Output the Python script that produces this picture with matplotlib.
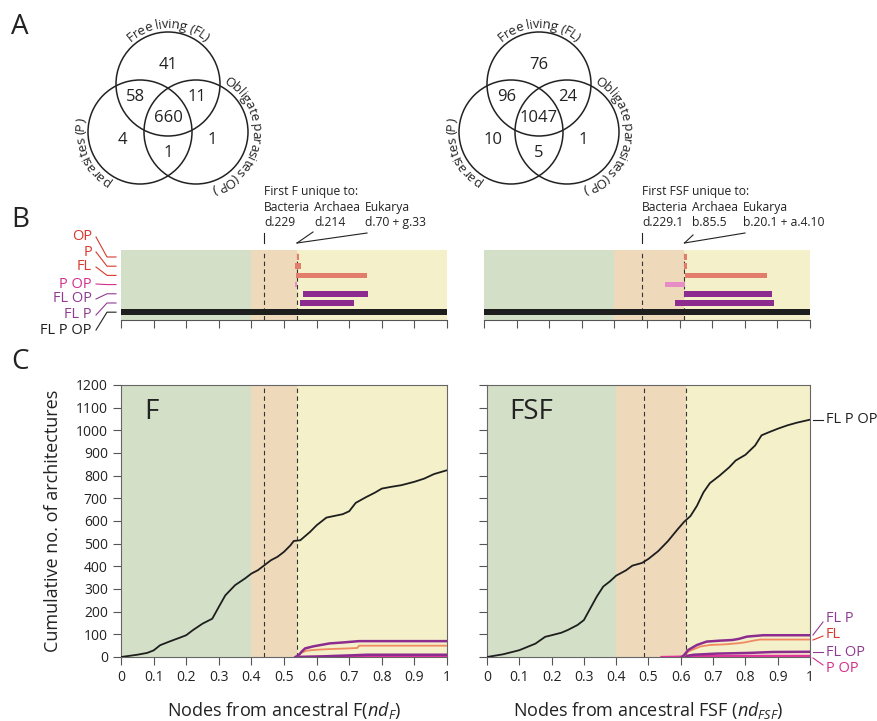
import numpy as np
import matplotlib
matplotlib.use('Agg')
import matplotlib.pyplot as plt
from matplotlib.patches import Circle
from matplotlib.font_manager import FontProperties, findfont, get_font

FONT = ['Open Sans', 'DejaVu Sans']
plt.rcParams['font.family'] = FONT
plt.rcParams['mathtext.fontset'] = 'custom'
plt.rcParams['mathtext.rm'] = 'Open Sans'
plt.rcParams['mathtext.it'] = 'Open Sans:italic'

# ---- data ----
venn_regions = ['FL', 'FL P', 'FL OP', 'FL P OP', 'P', 'P OP', 'OP']
venn_f = [41, 58, 11, 660, 4, 1, 1]
venn_fsf = [76, 96, 24, 1047, 10, 5, 1]

rows = ['OP', 'P', 'FL', 'P OP', 'FL OP', 'FL P', 'FL P OP']
bar_f_start = [0.541, 0.534, 0.537, 0.533, 0.558, 0.549, 0.0]
bar_f_end = [0.546, 0.552, 0.755, 0.540, 0.758, 0.715, 1.0]
bar_fsf_start = [0.613, 0.613, 0.617, 0.555, 0.613, 0.586, 0.0]
bar_fsf_end = [0.623, 0.623, 0.868, 0.617, 0.883, 0.890, 1.0]

green_end = 0.4
f_lines = [0.44, 0.54]        # bacteria / archaea+eukarya first unique F
fsf_lines = [0.485, 0.615]

f_x = [0, 0.05, 0.08, 0.10, 0.12, 0.15, 0.18, 0.20, 0.22, 0.25, 0.28, 0.30, 0.32, 0.35,
       0.38, 0.40, 0.42, 0.44, 0.46, 0.48, 0.50, 0.52, 0.53, 0.55, 0.58, 0.60, 0.63, 0.65,
       0.68, 0.70, 0.72, 0.75, 0.78, 0.80, 0.83, 0.86, 0.90, 0.93, 0.96, 1.0]
f_y = [0, 10, 18, 29, 52, 69, 85, 96, 118, 147, 169, 221, 272, 317, 346, 368, 383, 405,
       427, 442, 464, 493, 512, 515, 552, 581, 615, 621, 630, 643, 680, 704, 726, 743,
       751, 758, 773, 787, 807, 824]
f_flp_x = [0.535, 0.545, 0.555, 0.565, 0.59, 0.64, 0.68, 0.73, 1.0]
f_flp_y = [0, 8, 25, 38, 47, 60, 64, 70, 70]
f_fl_x = [0.54, 0.552, 0.57, 0.60, 0.64, 0.70, 0.725, 0.73, 1.0]
f_fl_y = [0, 18, 28, 32, 35, 38, 40, 50, 50]
f_flop_x = [0.545, 0.60, 0.64, 0.70, 0.755, 1.0]
f_flop_y = [0, 2, 4, 7, 10, 10]
f_pop_x = [0.54, 0.60, 1.0]
f_pop_y = [0, 1, 1]

fsf_x = [0, 0.05, 0.10, 0.15, 0.18, 0.20, 0.23, 0.25, 0.28, 0.30, 0.32, 0.34, 0.36, 0.38,
         0.40, 0.43, 0.45, 0.48, 0.50, 0.53, 0.56, 0.59, 0.61, 0.63, 0.65, 0.67, 0.69,
         0.72, 0.75, 0.77, 0.80, 0.83, 0.85, 0.87, 0.90, 0.93, 0.96, 1.0]
fsf_y = [0, 12, 30, 59, 89, 96, 107, 119, 141, 163, 215, 267, 311, 333, 359, 382, 403,
         415, 433, 467, 511, 563, 596, 622, 667, 726, 767, 800, 837, 867, 892, 933, 978,
         990, 1007, 1022, 1034, 1047]
fsf_flp_x = [0.603, 0.61, 0.623, 0.65, 0.68, 0.72, 0.76, 0.78, 0.805, 0.855, 1.0]
fsf_flp_y = [0, 8, 31, 53, 68, 72, 75, 80, 90, 96, 96]
fsf_fl_x = [0.607, 0.623, 0.66, 0.69, 0.74, 0.78, 0.80, 0.824, 0.845, 1.0]
fsf_fl_y = [0, 24, 46, 53, 56, 61, 65, 72, 77, 77]
fsf_flop_x = [0.607, 0.623, 0.64, 0.71, 0.81, 0.885, 1.0]
fsf_flop_y = [0, 6, 10, 15, 18, 22, 23]
fsf_pop_x = [0.54, 0.58, 0.61, 0.625, 0.65, 1.0]
fsf_pop_y = [0, 1, 2, 4, 5, 5]

# ---- styles ----
GREEN = '#d3e0c7'
PEACH = '#eed9bb'
YELLOW = '#f4f0ca'
SALMON = '#e27d6c'
PINK = '#e58dc4'
PURPLE = '#8c2c8f'
BLACK = '#1e1e1e'
RED_T = '#d83a2e'
MAG_T = '#d3308d'
PUR_T = '#8e3d90'
LINE_FL = '#ef8a62'
LINE_POP = '#e0339b'
INK = '#222222'
bar_colors = [SALMON, SALMON, SALMON, PINK, PURPLE, PURPLE, BLACK]
label_colors = [RED_T, RED_T, RED_T, MAG_T, PUR_T, PUR_T, INK]

W, H = 878, 721
DPI = 100
fig = plt.figure(figsize=(W / DPI, H / DPI), dpi=DPI)


def box(x0, y0, x1, y1):
    return [x0 / W, 1 - y1 / H, (x1 - x0) / W, (y1 - y0) / H]


def backdrop(ax, split):
    ax.axvspan(0, green_end, color=GREEN, lw=0, zorder=0)
    ax.axvspan(green_end, split, color=PEACH, lw=0, zorder=0)
    ax.axvspan(split, 1, color=YELLOW, lw=0, zorder=0)


# ---- panel B ----
def panel_b(rect, starts, ends, vlines):
    ax = fig.add_axes(rect)
    backdrop(ax, vlines[1])
    for v in vlines:
        ax.axvline(v, color='#333333', lw=0.8, ls=(0, (4, 3)), zorder=1)
    for i in range(len(rows)):
        h = 0.7 if i == len(rows) - 1 else 0.6
        ax.barh(i, ends[i] - starts[i], left=starts[i], height=h,
                color=bar_colors[i], lw=0, zorder=2)
    ax.set_xlim(0, 1)
    ax.set_ylim(6.85, -0.76)
    ax.set_xticks(np.arange(0, 1.01, 0.1))
    ax.set_yticks([])
    ax.tick_params(axis='x', direction='out', length=5.5, width=0.8, color='#555555',
                   labelbottom=False)
    for s in ['top', 'left', 'right']:
        ax.spines[s].set_visible(False)
    ax.spines['bottom'].set_color('#555555')
    ax.spines['bottom'].set_linewidth(0.8)
    return ax


axb1 = panel_b(box(121, 250, 447, 320), bar_f_start, bar_f_end, f_lines)
axb2 = panel_b(box(484, 250, 810, 320), bar_fsf_start, bar_fsf_end, fsf_lines)


# ---- panel C ----
def panel_c(rect, xs, ys, flp, fl, flop, pop, vlines, name, xlabel, show_y):
    ax = fig.add_axes(rect)
    backdrop(ax, vlines[1])
    for v in vlines:
        ax.axvline(v, color='#333333', lw=0.8, ls=(0, (4, 3)), zorder=1)
    ax.plot(pop[0], pop[1], color=LINE_POP, lw=1.6, zorder=3)
    ax.plot(flop[0], flop[1], color=PURPLE, lw=1.8, zorder=3)
    ax.plot(fl[0], fl[1], color=LINE_FL, lw=1.3, zorder=3)
    ax.plot(flp[0], flp[1], color=PURPLE, lw=1.8, zorder=3)
    ax.plot(xs, ys, color=BLACK, lw=1.3, zorder=4)
    ax.set_xlim(0, 1)
    ax.set_ylim(0, 1200)
    xt = np.round(np.arange(0, 1.01, 0.1), 1)
    ax.set_xticks(xt)
    ax.set_xticklabels(['0'] + ['%.1f' % v for v in xt[1:-1]] + ['1'])
    ax.set_yticks(range(0, 1201, 100))
    ax.tick_params(direction='out', length=5.5, width=0.8, color='#555555',
                   labelsize=10, labelcolor=INK, pad=4)
    if not show_y:
        ax.tick_params(axis='y', labelleft=False)
    for s in ax.spines.values():
        s.set_color('#666666')
        s.set_linewidth(0.8)
    ax.set_xlabel(xlabel, fontsize=13, color=INK)
    ax.xaxis.set_label_coords(0.5, -(700 - 657) / 272)
    ax.text(0.07, 0.9, name, transform=ax.transAxes, fontsize=20, color=INK,
            ha='left', va='center')
    return ax


axc1 = panel_c(box(121, 385, 447, 657), f_x, f_y, (f_flp_x, f_flp_y), (f_fl_x, f_fl_y),
               (f_flop_x, f_flop_y), (f_pop_x, f_pop_y), f_lines, 'F',
               r'Nodes from ancestral F($\mathit{nd}_{\mathit{F}}$)', True)
axc1.set_ylabel('Cumulative no. of architectures', fontsize=13, color=INK)
axc1.yaxis.set_label_coords(-(121 - 62) / 326, 0.5)
axc2 = panel_c(box(487, 385, 810, 657), fsf_x, fsf_y, (fsf_flp_x, fsf_flp_y),
               (fsf_fl_x, fsf_fl_y), (fsf_flop_x, fsf_flop_y), (fsf_pop_x, fsf_pop_y),
               fsf_lines, 'FSF',
               r'Nodes from ancestral FSF ($\mathit{nd}_{\mathit{FSF}}$)', False)

# ---- overlay in pixel coordinates ----
ov = fig.add_axes([0, 0, 1, 1])
ov.set_xlim(0, W)
ov.set_ylim(H, 0)
ov.axis('off')

for letter, y in [('A', 27), ('B', 220), ('C', 362)]:
    ov.text(11, y, letter, fontsize=20, color=INK, ha='left', va='center')


def advances(s, fp):
    # horizontal advance (pixels) of each character, with kerning
    font = get_font(findfont(fp))
    font.set_size(fp.get_size_in_points(), DPI)
    out = []
    prev = None
    for ch in s:
        gi = font.get_char_index(ord(ch))
        kern = font.get_kerning(prev, gi, 0) / 64 if prev is not None else 0
        g = font.load_char(ord(ch), flags=2)
        out.append((kern, g.linearHoriAdvance / 65536))
        prev = gi
    return out


def arc_text(s, cx, cy, r, theta_c, fs, squeeze=0.93):
    # letters placed one by one along the outside of a circle, clockwise
    fp = FontProperties(family=FONT, size=fs)
    adv = advances(s, fp)
    centers = []
    x = 0
    for kern, a in adv:
        x += kern
        centers.append(x + a / 2)
        x += a
    total = x * squeeze
    th0 = np.radians(theta_c) + total / 2 / r
    for ch, c in zip(s, centers):
        if ch == ' ':
            continue
        th = th0 - c * squeeze / r
        ov.text(cx + r * np.cos(th), cy - r * np.sin(th), ch, fontproperties=fp,
                rotation=np.degrees(th) - 90, rotation_mode='anchor',
                ha='center', va='baseline', color=INK)


num_offsets = [(0, -43), (-32, -11), (29, -11), (0, 10), (-46, 32), (0, 45), (44, 32)]


def venn(cx, cy, counts):
    R = 52
    cfl, cp, cop = (cx, cy - 24), (cx - 28, cy + 24), (cx + 28, cy + 24)
    for c in (cfl, cp, cop):
        ov.add_patch(Circle(c, R, fill=False, ec=INK, lw=1.1))
    for (dx, dy), n in zip(num_offsets, counts):
        ov.text(cx + dx, cy + dy, str(n), fontsize=12, color=INK, ha='center', va='center')
    arc_text('Free living (FL)', cfl[0], cfl[1], 56, 90, 9.5)
    arc_text('Obligate parasites (OP)', cop[0], cop[1], 56, -6, 9.5)
    arc_text('parasites (P)', cp[0], cp[1], 56, 203, 9.5)


venn(168, 108, venn_f)
venn(539, 108, venn_fsf)

# annotations above panel B
ann_fs = 8.7
ov.text(264, 195, 'First F unique to:', fontsize=ann_fs, color=INK, va='baseline')
for x, a, b in [(264, 'Bacteria', 'd.229'), (314, 'Archaea', 'd.214'),
                (365, 'Eukarya', 'd.70 + g.33')]:
    ov.text(x, 211, a, fontsize=ann_fs, color=INK, va='baseline')
    ov.text(x, 226, b, fontsize=ann_fs, color=INK, va='baseline')
ov.text(642, 195, 'First FSF unique to:', fontsize=ann_fs, color=INK, va='baseline')
for x, a, b in [(642, 'Bacteria', 'd.229.1'), (692, 'Archaea', 'b.85.5'),
                (743, 'Eukarya', 'b.20.1 + a.4.10')]:
    ov.text(x, 211, a, fontsize=ann_fs, color=INK, va='baseline')
    ov.text(x, 226, b, fontsize=ann_fs, color=INK, va='baseline')


def to_px(ax, x, y):
    dx, dy = ax.transData.transform((x, y))
    return dx, H - dy


for ax, vl, src in [(axb1, f_lines, [(313, 232), (367, 233)]),
                    (axb2, fsf_lines, [(693, 235), (745, 233)])]:
    bx, _ = to_px(ax, vl[0], 0)
    ov.plot([bx, bx], [233, 243], color=INK, lw=0.8)
    ex, _ = to_px(ax, vl[1], 0)
    for sx, sy in src:
        ov.plot([sx, ex], [sy, 243], color=INK, lw=0.8)

# row labels with leader lines (panel B, left)
label_y = [237, 252, 267, 284, 299, 315, 330]
for i, name in enumerate(rows):
    _, ry = to_px(axb1, 0, i)
    ov.text(92, label_y[i], name, fontsize=10.5, color=label_colors[i],
            ha='right', va='center')
    ov.plot([96, 107, 116], [label_y[i], ry, ry], color=label_colors[i], lw=0.8)

# series labels right of panel C
_, yend = to_px(axc2, 1, fsf_y[-1])
ov.plot([813, 823], [yend, yend], color=INK, lw=0.8)
ov.text(826, yend, 'FL P OP', fontsize=10.5, color=INK, va='center')
for name, col, yl, y0, y1 in [('FL P', PUR_T, 619, 635, 622), ('FL', RED_T, 635, 640, 636),
                              ('FL OP', PUR_T, 652, 652, 652), ('P OP', MAG_T, 668, 658, 665)]:
    ov.plot([813, 823], [y0, y1], color=col, lw=0.8)
    ov.text(826, yl, name, fontsize=10.5, color=col, va='center')

fig.savefig('out.png', dpi=DPI)
